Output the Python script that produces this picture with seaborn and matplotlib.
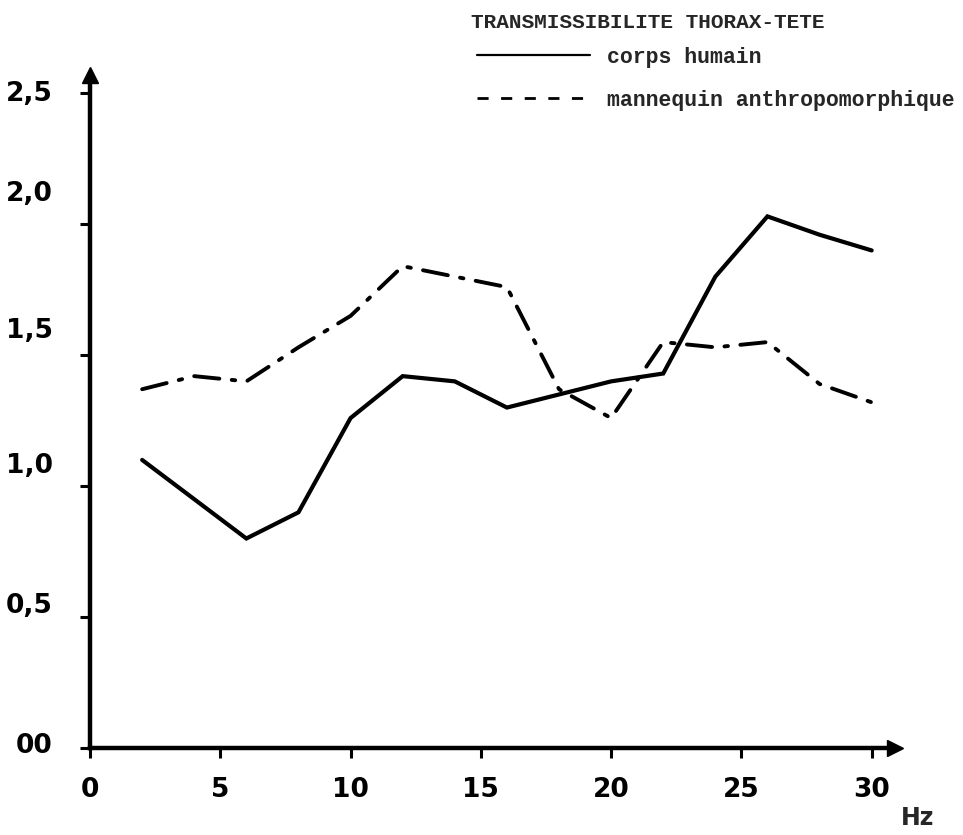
import matplotlib
matplotlib.use("Agg")
import matplotlib.pyplot as plt
import matplotlib.transforms as mtransforms
from matplotlib.lines import Line2D
import seaborn as sns
import pandas as pd

# Frequency (Hz) and head/thorax transmissibility for both subjects
freq_hz = [2, 4, 6, 8, 10, 12, 14, 16, 18, 20, 22, 24, 26, 28, 30]
corps_humain = [1.10, 0.95, 0.80, 0.90, 1.26, 1.42, 1.40, 1.30, 1.35, 1.40, 1.43, 1.80, 2.03, 1.96, 1.90]
mannequin = [1.37, 1.42, 1.40, 1.53, 1.65, 1.84, 1.80, 1.76, 1.37, 1.26, 1.55, 1.53, 1.55, 1.39, 1.32]

x_ticks = [0, 5, 10, 15, 20, 25, 30]
y_ticks = [0.0, 0.5, 1.0, 1.5, 2.0, 2.5]
y_tick_labels = ["00", "0,5", "1,0", "1,5", "2,0", "2,5"]
legend_title = "TRANSMISSIBILITE THORAX-TETE"
series_names = ["corps humain", "mannequin anthropomorphique"]
x_unit = "Hz"

sns.set_theme(style="white")
plt.rcParams["font.family"] = ["DejaVu Sans"]

df = pd.DataFrame({"freq": freq_hz, "humain": corps_humain, "mannequin": mannequin})

fig = plt.figure(figsize=(9.63, 8.35), dpi=100)
ax = fig.add_axes([0.0935, 0.1042, 0.836, 0.806])

sns.lineplot(data=df, x="freq", y="humain", ax=ax, color="black", linewidth=3,
             solid_joinstyle="miter", legend=False)
sns.lineplot(data=df, x="freq", y="mannequin", ax=ax, color="black", linewidth=2.8,
             linestyle=(0, (6.5, 3.2, 0.9, 3.2)), dash_capstyle="round", legend=False)

ax.set_xlim(0, 30.9)
ax.set_ylim(0, 2.57)
ax.set_xlabel("")
ax.set_ylabel("")

for side in ("top", "right"):
    ax.spines[side].set_visible(False)
for side in ("left", "bottom"):
    ax.spines[side].set_linewidth(3.2)
    ax.spines[side].set_color("black")

# arrow heads at the ends of both axes
ax.plot(1, 0, marker=">", color="black", markersize=11, transform=ax.transAxes, clip_on=False)
ax.plot(0, 1, marker="^", color="black", markersize=11, transform=ax.transAxes, clip_on=False)

ax.set_xticks(x_ticks)
ax.set_xticklabels([str(v) for v in x_ticks])
ax.set_yticks(y_ticks)
ax.set_yticklabels(y_tick_labels)
ax.tick_params(axis="x", bottom=True, direction="out", length=7, width=2.2, color="black",
               pad=14, labelsize=19, labelcolor="black")
ax.tick_params(axis="y", left=True, direction="out", length=7, width=2.2, color="black",
               pad=20, labelsize=19, labelcolor="black")
for lab in ax.get_xticklabels() + ax.get_yticklabels():
    lab.set_fontweight("bold")

# hand-lettered y labels sit a little above their ticks
y_shift_px = [5, 14, 23, 27, 33, 2]
for lab, dy in zip(ax.get_yticklabels(), y_shift_px):
    lab.set_transform(lab.get_transform() + mtransforms.ScaledTranslation(0, dy / 100, fig.dpi_scale_trans))

fig.text(918 / 963, 1 - 818 / 835, x_unit, fontsize=17, fontweight="bold",
         ha="center", va="center")

# legend block: heading, then one line sample per series
fig.text(471 / 963, 1 - 22 / 835, legend_title, ha="left", va="center",
         fontfamily="Liberation Mono", fontweight="bold", fontsize=15.2)

mono = {"family": "Liberation Mono", "weight": "bold", "size": 15.5}
handles = [
    Line2D([], [], color="black", linewidth=1.6),
    Line2D([], [], color="black", linewidth=2.0, linestyle=(0, (4, 4.5))),
]
leg = ax.legend(handles, series_names,
                loc="upper left", bbox_to_anchor=(477 / 963, 1 - 47 / 835),
                bbox_transform=fig.transFigure, frameon=False,
                prop=mono, handlelength=5.25, handletextpad=0.8, labelspacing=1.0,
                borderpad=0, borderaxespad=0)

fig.savefig("out.png", dpi=100, facecolor="white")
